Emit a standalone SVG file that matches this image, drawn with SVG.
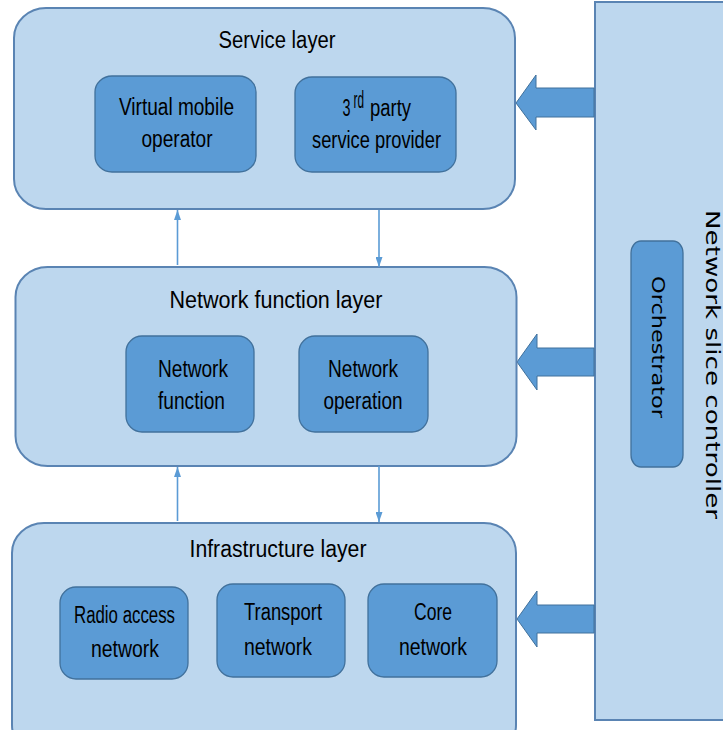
<svg xmlns="http://www.w3.org/2000/svg" width="723" height="730" viewBox="0 0 723 730">
<defs>
<style>
.layer{fill:#BDD7EE;stroke:#5A84B3;stroke-width:2}
.inner{fill:#5B9BD5;stroke:#41719C;stroke-width:1.3}
.barrow{fill:#5B9BD5;stroke:#41719C;stroke-width:1}
.conn{stroke:#5B9BD5;stroke-width:1.6;fill:none;marker-end:url(#ah)}
.t{font-family:"Liberation Sans",Arial,sans-serif;font-size:23px;fill:#000;text-anchor:middle}
.s{text-anchor:start}
.v{font-family:"DejaVu Sans",Verdana,sans-serif;fill:#000}
</style>
<marker id="ah" markerUnits="userSpaceOnUse" markerWidth="10" markerHeight="7" refX="10" refY="3.5" orient="auto">
<path d="M0,0 L10,3.5 L0,7 z" fill="#5B9BD5"/>
</marker>
</defs>
<rect width="723" height="730" fill="#fff"/>

<g id="controller">
<rect x="595" y="2" width="140" height="718" class="layer"/>
<text class="v" font-size="20" transform="translate(705.5,210) rotate(90)" textLength="309" lengthAdjust="spacingAndGlyphs">Network slice controller</text>
</g>
<g id="orchestrator">
<rect x="631" y="241" width="52" height="226" rx="10" ry="12" class="inner"/>
<text class="v" font-size="18" transform="translate(651.5,276) rotate(90)" textLength="142" lengthAdjust="spacingAndGlyphs">Orchestrator</text>
</g>

<g id="arrow-service"><polygon class="barrow" points="516,103 536,75 536,88 594,88 594,117 536,117 536,130"/></g>
<g id="arrow-nf"><polygon class="barrow" points="517,362 537,334 537,348 594,348 594,376 537,376 537,390"/></g>
<g id="arrow-infra"><polygon class="barrow" points="517,619 537,591 537,605 594,605 594,633 537,633 537,647"/></g>

<g id="service-layer">
<rect x="14" y="8" width="501" height="201" rx="32" ry="30" class="layer"/>
<text class="t" x="277" y="48" textLength="117" lengthAdjust="spacingAndGlyphs">Service layer</text>
</g>
<g id="virtual-mobile-operator">
<rect x="95" y="76" width="161" height="96" rx="17" ry="16" class="inner"/>
<text class="t" x="176.5" y="115" textLength="115" lengthAdjust="spacingAndGlyphs">Virtual mobile</text>
<text class="t" x="177" y="147" textLength="71" lengthAdjust="spacingAndGlyphs">operator</text>
</g>
<g id="third-party">
<rect x="295" y="77" width="161" height="95" rx="17" ry="16" class="inner"/>
<text class="t s" x="342.5" y="116" textLength="8" lengthAdjust="spacingAndGlyphs">3</text>
<text class="t s" x="353.5" y="107.5" font-size="13" textLength="10.5" lengthAdjust="spacingAndGlyphs">rd</text>
<text class="t s" x="370" y="116" textLength="41" lengthAdjust="spacingAndGlyphs">party</text>
<text class="t" x="376.5" y="148" textLength="129" lengthAdjust="spacingAndGlyphs">service provider</text>
</g>

<g id="network-function-layer">
<rect x="15.5" y="267" width="501" height="199" rx="32" ry="30" class="layer"/>
<text class="t" x="276" y="308" textLength="213" lengthAdjust="spacingAndGlyphs">Network function layer</text>
</g>
<g id="network-function">
<rect x="126" y="336" width="128" height="96" rx="16" ry="16" class="inner"/>
<text class="t" x="193" y="377" textLength="70" lengthAdjust="spacingAndGlyphs">Network</text>
<text class="t" x="191.5" y="409" textLength="67" lengthAdjust="spacingAndGlyphs">function</text>
</g>
<g id="network-operation">
<rect x="299" y="336" width="129" height="96" rx="16" ry="16" class="inner"/>
<text class="t" x="363" y="377" textLength="70" lengthAdjust="spacingAndGlyphs">Network</text>
<text class="t" x="363" y="409" textLength="79" lengthAdjust="spacingAndGlyphs">operation</text>
</g>

<g id="infrastructure-layer">
<rect x="12" y="523" width="504" height="232" rx="32" ry="30" class="layer"/>
<text class="t" x="278" y="557" textLength="177" lengthAdjust="spacingAndGlyphs">Infrastructure layer</text>
</g>
<g id="radio-access-network">
<rect x="60" y="587" width="128" height="92" rx="16" ry="16" class="inner"/>
<text class="t" x="124.5" y="623" textLength="101" lengthAdjust="spacingAndGlyphs">Radio access</text>
<text class="t" x="125" y="657" textLength="68" lengthAdjust="spacingAndGlyphs">network</text>
</g>
<g id="transport-network">
<rect x="217" y="584" width="128" height="93" rx="16" ry="16" class="inner"/>
<text class="t" x="283" y="620" textLength="78" lengthAdjust="spacingAndGlyphs">Transport</text>
<text class="t" x="278" y="655" textLength="68" lengthAdjust="spacingAndGlyphs">network</text>
</g>
<g id="core-network">
<rect x="368" y="584" width="129" height="93" rx="16" ry="16" class="inner"/>
<text class="t" x="433" y="620" textLength="38" lengthAdjust="spacingAndGlyphs">Core</text>
<text class="t" x="433" y="655" textLength="68" lengthAdjust="spacingAndGlyphs">network</text>
</g>

<g id="connectors">
<line class="conn" x1="177.5" y1="265" x2="177.5" y2="210"/>
<line class="conn" x1="379" y1="210" x2="379" y2="267"/>
<line class="conn" x1="177.5" y1="521" x2="177.5" y2="467"/>
<line class="conn" x1="379" y1="466" x2="379" y2="522"/>
</g>
</svg>
